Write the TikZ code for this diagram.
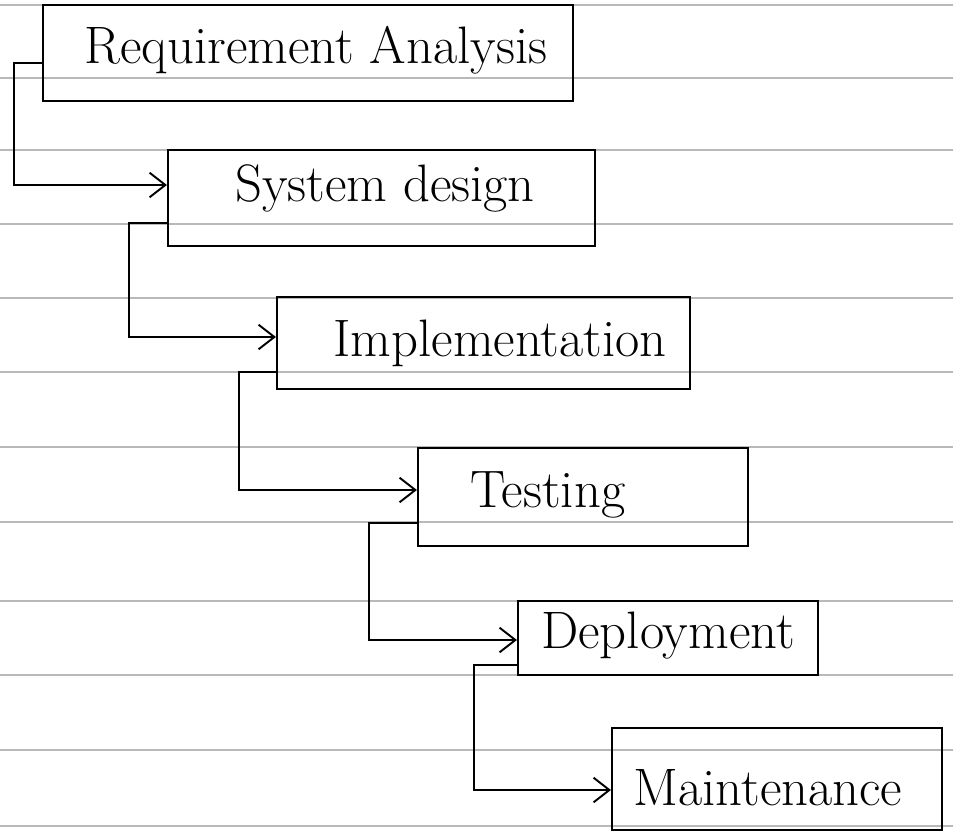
\documentclass[tikz,border=0pt]{standalone}
\usepackage{tikz}
\usetikzlibrary{arrows.meta}
\usetikzlibrary{positioning}
\usetikzlibrary{fit,calc}
\tikzset{
    phase/.style={draw=black, line width=1.2pt, inner sep=0pt},
    phasetext/.style={font=\fontsize{30}{34}\selectfont},
    flow/.style={draw=black, line width=1.1pt,
        -{Straight Barb[length=9pt,width=14pt,line width=1.1pt]}},
    ruled/.style={draw=gray!55, line width=0.9pt},
}
\begin{document}
\begin{tikzpicture}[x=0.02cm, y=-0.02cm]
	\useasboundingbox (0,0) rectangle (953,832);
	% lined paper
	\foreach \ry in {5,78,150,224,298,372,447,522,601,675,750,826}
		\draw[ruled] (0,\ry)--(953,\ry);
%
	\node[phase, fit={(43,5)(573,101)}] (req) {};
	\node[phase, fit={(168,150)(595,246)}] (sys) {};
	\node[phase, fit={(277,297)(690,389)}] (impl) {};
	\node[phase, fit={(418,448)(748,546)}] (test) {};
	\node[phase, fit={(518,601)(818,675)}] (depl) {};
	\node[phase, fit={(612,728)(942,830)}] (maint) {};
%
	\node[phasetext] (reqtxt) at (316,50) {Requirement Analysis};
	\node[phasetext] (systxt) at (385,188) {System design};
	\node[phasetext] (impltxt) at (500,343) {Implementation};
	\node[phasetext] (testtxt) at (548,495) {Testing};
	\node[phasetext] (depltxt) at (668,636) {Deployment};
	\node[phasetext] (mainttxt) at (768,788) {Maintenance};
%
	\draw[flow] ([shift={(0,10)}]req.west) -- ++(-28,0) |- ([shift={(0,-13)}]sys.west);
	\draw[flow] ([shift={(0,25)}]sys.west) -- ++(-38,0) |- ([shift={(0,-6)}]impl.west);
	\draw[flow] ([shift={(0,29)}]impl.west) -- ++(-37,0) |- ([shift={(0,-7)}]test.west);
	\draw[flow] ([shift={(0,26)}]test.west) -- ++(-48,0) |- ([shift={(0,2)}]depl.west);
	\draw[flow] ([shift={(0,27)}]depl.west) -- ++(-43,0) |- ([shift={(0,11)}]maint.west);
\end{tikzpicture}
\end{document}
